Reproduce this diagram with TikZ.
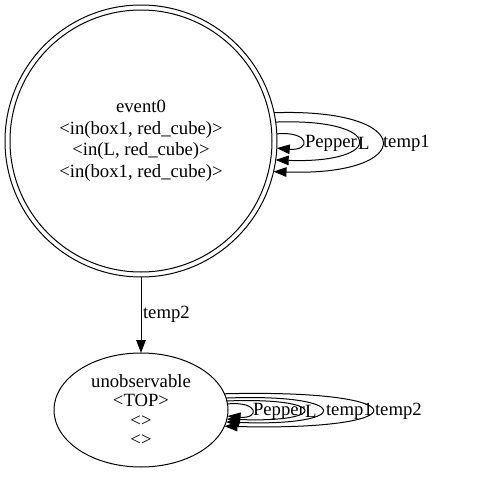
\documentclass[tikz,border=0pt]{standalone}
\usepackage{fontspec}
\setmainfont{Liberation Serif}
\usetikzlibrary{arrows.meta,shapes.geometric}
\begin{document}
\begin{tikzpicture}[x=1pt,y=-1pt,
  every node/.style={inner sep=0pt,outer sep=0pt},
  edge/.style={line width=1pt,-{Triangle[length=13pt,width=9.5pt]}},
  lbl/.style={font=\fontsize{18.7}{21}\selectfont,anchor=west},
  state/.style={draw,line width=1pt,align=center}]
\useasboundingbox (0,0) rectangle (488,482);
\node[state,circle,minimum size=272pt,font=\fontsize{18.7}{21.5}\selectfont] (ev) at (141,141)
  {event0\\\textless in(box1, red\_cube)\textgreater\\\textless in(L, red\_cube)\textgreater\\\textless in(box1, red\_cube)\textgreater};
\draw[line width=1pt] (ev.center) circle (131);
\node[state,ellipse,minimum width=174pt,minimum height=114pt,font=\fontsize{18.7}{19.5}\selectfont] (un) at (141,410)
  {unobservable\\\textless TOP\textgreater\\\textless\textgreater\\\textless\textgreater};
% edge temp2
\draw[edge] (ev) -- (un);
\node[lbl] (l0) at (143,314) {temp2};
% top self loops
\draw[edge] (ev.3.4) .. controls +(34,-3) and +(34,3) .. (ev.-3.8);
\draw[edge] (ev.8) .. controls +(110,-4) and +(110,4) .. (ev.-8.9);
\draw[edge] (ev.12.9) .. controls +(144,-5) and +(144,5) .. (ev.-13.6);
\node[lbl] (l1) at (305,143) {Pepper};
\node[lbl] (l2) at (358,143) {L};
\node[lbl] (l3) at (383,143) {temp1};
% bottom self loops
\draw[edge] (un.4.7) .. controls +(32,-3) and +(32,3) .. (un.-4.7);
\draw[edge] (un.6) .. controls +(102,-4) and +(102,4) .. (un.-6);
\draw[edge] (un.8.7) .. controls +(128,-5) and +(128,5) .. (un.-8.7);
\draw[edge] (un.11.6) .. controls +(197,-5) and +(197,5) .. (un.-11.6);
\node[lbl] (m1) at (253,411) {Pepper};
\node[lbl] (m2) at (305,411) {L};
\node[lbl] (m3) at (326,411) {temp1};
\node[lbl] (m4) at (375,411) {temp2};
\end{tikzpicture}
\end{document}
